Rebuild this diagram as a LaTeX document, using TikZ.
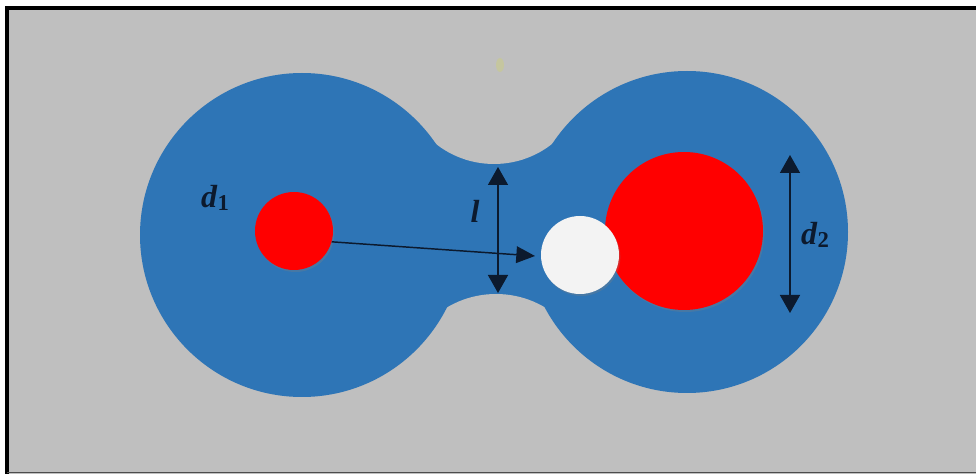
\documentclass[tikz,border=0pt]{standalone}
\usepackage{fontspec}
\setmainfont{Liberation Serif}
\usetikzlibrary{arrows.meta,shadows}
\definecolor{bggray}{HTML}{BFBFBF}
\definecolor{blobblue}{HTML}{2E75B6}
\definecolor{ballred}{HTML}{FF0000}
\definecolor{ballwhite}{HTML}{F3F3F3}
\definecolor{inkline}{HTML}{0C1A2E}
\definecolor{smudge}{HTML}{C9CB8A}
\newcommand{\symlab}[2]{\textbf{\textit{#1}}\raisebox{-0.25ex}{\fontsize{17}{17}\selectfont\textbf{#2}}}
\begin{document}
\begin{tikzpicture}[x=0.75pt,y=-0.75pt,
  ball/.style={circle,inner sep=0pt,draw=none,
    drop shadow={opacity=0.3,shadow xshift=1pt,shadow yshift=-1.5pt}},
  dimline/.style={line width=1.1pt,draw=inkline,
    {Triangle[width=15pt,length=13.5pt]}-{Triangle[width=15pt,length=13.5pt]}},
  vecline/.style={line width=1.1pt,draw=inkline,-{Triangle[width=12.5pt,length=14pt]}},
  symtext/.style={inner sep=0pt,text=inkline,font=\fontsize{24}{24}\selectfont}]
\useasboundingbox (0,0) rectangle (976,474);
% background
\fill[white] (0,0) rectangle (976,474);
\fill[bggray] (7,8) rectangle (976,474);
% faint mark
\fill[smudge,opacity=0.6] (500,65) ellipse [x radius=4,y radius=7];
% dumbbell shape
\fill[blobblue] (425,100) rectangle (565,360);
\begin{scope}
  \clip (425,100) rectangle (565,360);
  \fill[bggray] (494,70) circle [radius=94];
  \fill[bggray] (496,390) circle [radius=96];
\end{scope}
\fill[blobblue] (302,235) circle [radius=162];
\fill[blobblue] (687,232) circle [radius=161];
% particles (diameters in pt = px * 0.75)
\node[ball,fill=ballred,minimum size=58.5pt] (r1) at (294,231) {};
\node[ball,fill=ballred,minimum size=118.5pt] (r2) at (684,231) {};
\node[ball,fill=ballwhite,minimum size=58.5pt] (w1) at (580,255) {};
% connectors
\coordinate (vtip) at (535,256);
\draw[vecline] (r1.-16) -- (vtip);
\coordinate (ltop) at (498,167);
\coordinate (lbot) at (498,293);
\draw[dimline] (ltop) -- (lbot);
\coordinate (dtop) at (790,155);
\coordinate (dbot) at (790,313);
\draw[dimline] (dtop) -- (dbot);
% labels
\node[symtext] (d1lab) at (215,198) {\symlab{d}{1}};
\node[symtext] (llab) at (475,211) {\textbf{\textit{l}}};
\node[symtext] (d2lab) at (815,235) {\symlab{d}{2}};
% frame
\draw[black,line width=3pt] (5.5,8) -- (976,8);
\draw[black,line width=3pt] (7,6.5) -- (7,474);
\draw[black!70,line width=1.2pt] (7,472.5) -- (976,472.5);
\end{tikzpicture}
\end{document}
